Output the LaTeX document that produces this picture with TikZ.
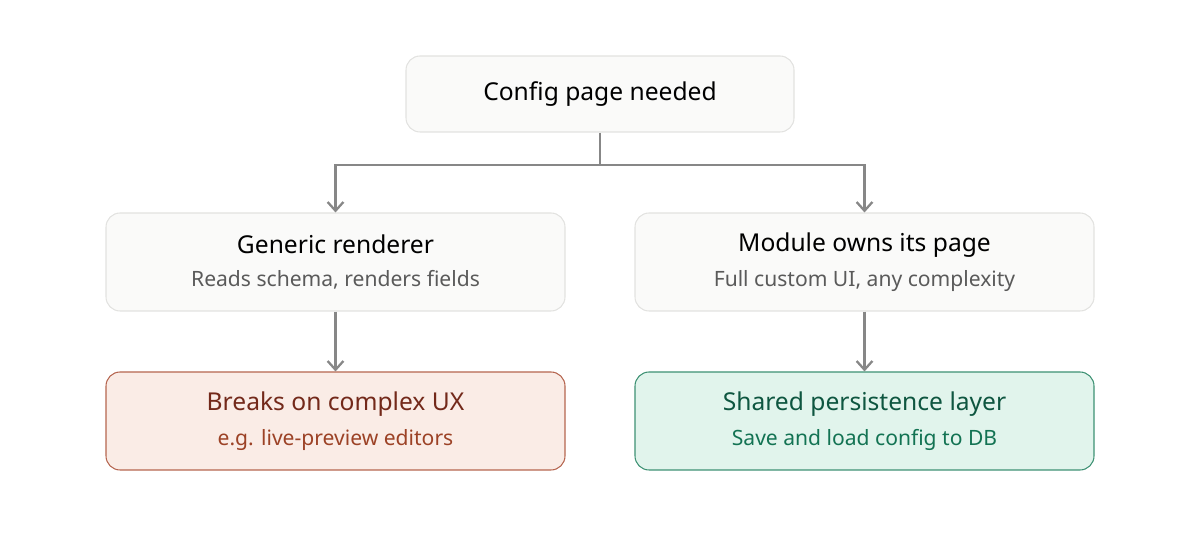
\documentclass[tikz,border=0pt]{standalone}
\usepackage{fontspec}
\setmainfont{Noto Sans}
\usetikzlibrary{arrows.meta}
\definecolor{boxfill}{HTML}{FAFAF9}
\definecolor{boxline}{HTML}{E2E2E0}
\definecolor{subgray}{HTML}{5A5A5A}
\definecolor{redfill}{HTML}{FAECE6}
\definecolor{redline}{HTML}{B5654F}
\definecolor{redtext}{HTML}{73291A}
\definecolor{redsub}{HTML}{9C4226}
\definecolor{greenfill}{HTML}{E1F4EC}
\definecolor{greenline}{HTML}{3D9173}
\definecolor{greentext}{HTML}{0E5640}
\definecolor{greensub}{HTML}{137353}
\definecolor{arrowgray}{HTML}{878787}
\tikzset{
  plainbox/.style={draw=boxline, fill=boxfill, rounded corners=8pt, line width=0.6pt,
    minimum width=9.18cm, minimum height=1.96cm, align=center, inner sep=0pt},
  redbox/.style={plainbox, draw=redline, fill=redfill, text=redtext},
  greenbox/.style={plainbox, draw=greenline, fill=greenfill, text=greentext},
  flow/.style={draw=arrowgray, line width=1.3pt, -{Straight Barb[length=5pt,width=9pt]}}
}
\newcommand{\ttl}[1]{{\fontsize{14}{20}\selectfont #1}}
\newcommand{\sub}[2]{{\fontsize{12}{16}\selectfont\color{#1}#2}}

\begin{document}
\begin{tikzpicture}
  \useasboundingbox (0, 0) rectangle (24, 10.8);
  \node [plainbox, minimum width=7.76cm, minimum height=1.52cm] (need) at (12, 8.92)
    {\ttl{Config page needed}};
  \node [plainbox] (generic) at (6.71, 5.56)
    {\ttl{Generic renderer}\\[6.5pt]\sub{subgray}{Reads schema, renders fields}};
  \node [plainbox] (module) at (17.29, 5.56)
    {\ttl{Module owns its page}\\[6.5pt]\sub{subgray}{Full custom UI, any complexity}};
  \node [redbox] (breaks) at (6.71, 2.38)
    {\ttl{Breaks on complex UX}\\[6.5pt]\sub{redsub}{e.g. live-preview editors}};
  \node [greenbox] (shared) at (17.29, 2.38)
    {\ttl{Shared persistence layer}\\[6.5pt]\sub{greensub}{Save and load config to DB}};

  \coordinate (split) at (12, 7.5);
  \draw [draw=arrowgray, line width=1.3pt] (need.south) -- (split);
  \draw [flow] (split) -| (generic.north);
  \draw [flow] (split) -| (module.north);
  \draw [flow] (generic) -- (breaks);
  \draw [flow] (module) -- (shared);

\end{tikzpicture}
\end{document}
